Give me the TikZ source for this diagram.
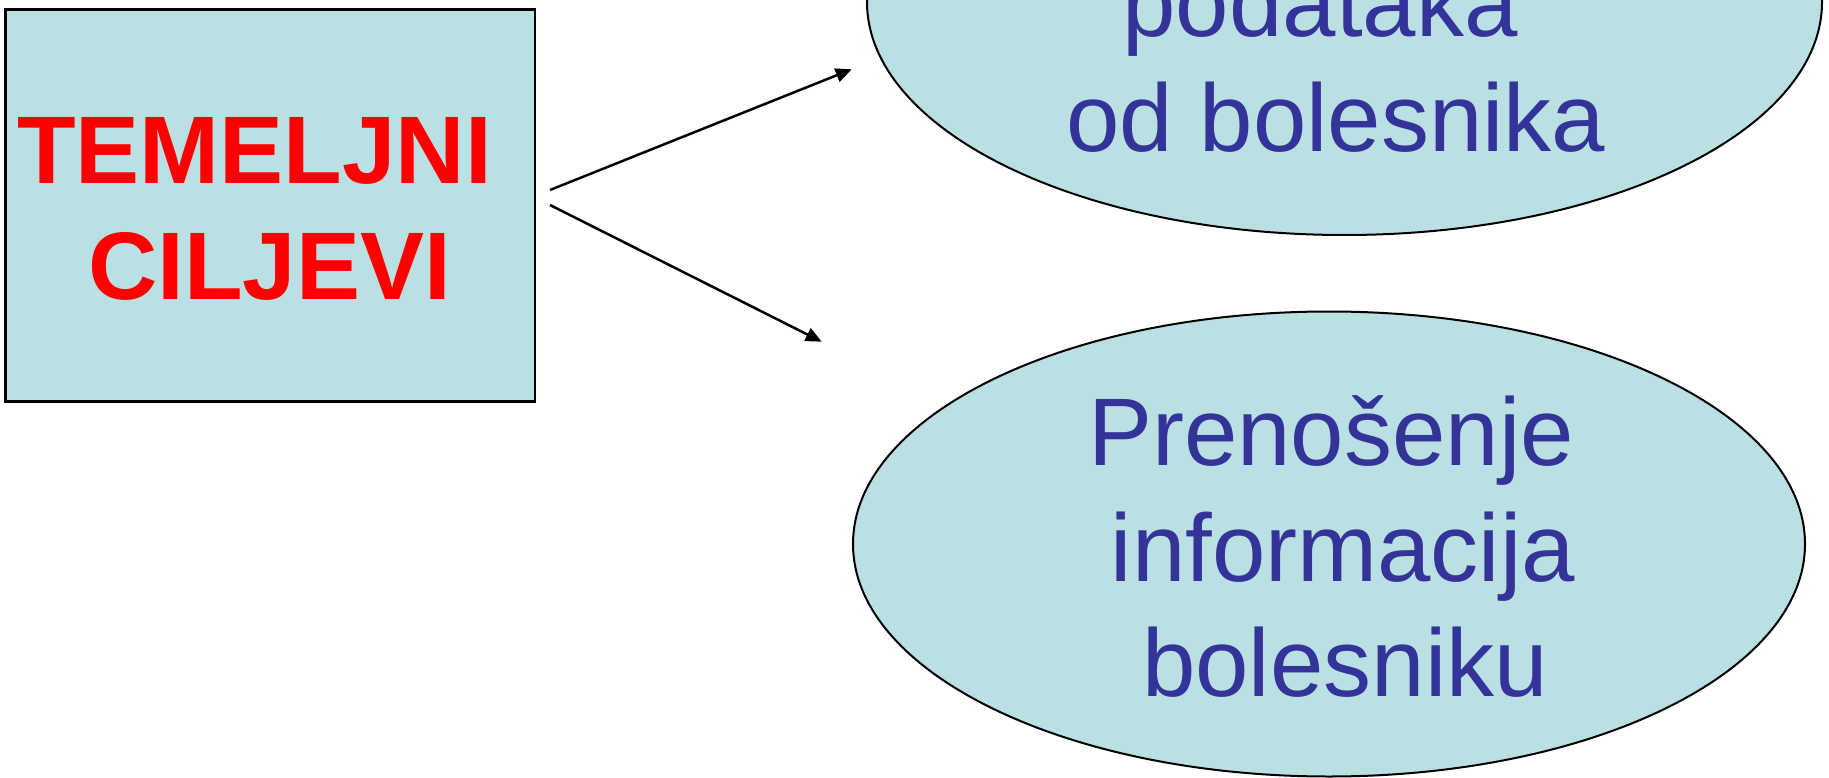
\documentclass[tikz,border=0pt]{standalone}
\usepackage{fontspec}
\setmainfont{Liberation Sans}
\usetikzlibrary{shapes.geometric,arrows.meta}
\definecolor{boxfill}{HTML}{BBE0E3}
\definecolor{txtblue}{HTML}{333399}
\definecolor{txtred}{HTML}{FF0000}
\begin{document}
\begin{tikzpicture}[x=1pt,y=-1pt,
  shapebox/.style={draw=black, fill=boxfill, line width=2.5pt, inner sep=0pt},
  oval/.style={ellipse, draw=black, fill=boxfill, line width=2pt, inner sep=0pt, outer sep=0pt},
  bluetxt/.style={text=txtblue, font=\fontsize{96}{115}\selectfont, anchor=base, inner sep=0pt},
  redtxt/.style={text=txtred, font=\bfseries\fontsize{96}{115}\selectfont, anchor=base, inner sep=0pt},
  link/.style={-{Triangle[length=16pt,width=14pt]}, line width=2.5pt}]
\useasboundingbox (0,0) rectangle (1829,778);
% left box
\node[shapebox, minimum width=529.6pt, minimum height=392.4pt] (goals) at (270.2,205.5) {};
\node[redtxt] (t1) at (254.5,183.7) {TEMELJNI};
\node[redtxt] (t2) at (269.5,299) {CILJEVI};
% top ellipse
\node[oval, minimum width=955pt, minimum height=466pt] (top) at (1344.5,2) {};
\node[bluetxt] (p1) at (1320,36.7) {podataka};
\node[bluetxt] (p2) at (1336,152) {od bolesnika};
% bottom ellipse
\node[oval, minimum width=952pt, minimum height=465pt] (bot) at (1329,544) {};
\node[bluetxt] (q1) at (1331,465.7) {Prenošenje};
\node[bluetxt] (q2) at (1343,581) {informacija};
\node[bluetxt] (q3) at (1345,696.7) {bolesniku};
% connectors
\coordinate (a1s) at (550,190);
\coordinate (a1e) at (851.7,69.3);
\coordinate (a2s) at (550,205);
\coordinate (a2e) at (821.7,341.7);
\draw[link] (a1s) -- (a1e);
\draw[link] (a2s) -- (a2e);
\end{tikzpicture}
\end{document}
